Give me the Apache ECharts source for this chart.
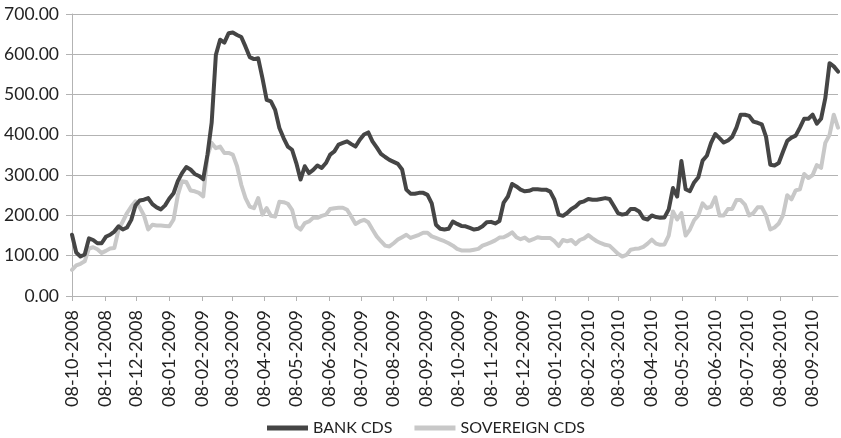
<!DOCTYPE html>
<html>
<head>
<meta charset="utf-8">
<title>Bank CDS vs Sovereign CDS</title>
<script src="https://cdn.jsdelivr.net/npm/echarts@6/dist/echarts.min.js"></script>
<style>
  html, body { margin: 0; padding: 0; background: #ffffff; }
  #chart { width: 841px; height: 438px; }
</style>
</head>
<body>
<div id="chart"></div>
<script>
// Date range of the axis (one category per calendar day)
const FIRST_DAY = '08-10-2008';
const LAST_DAY = '02-10-2010';
// Observations are taken every 4 calendar days starting at FIRST_DAY
const SAMPLE_STEP_DAYS = 4;

// Monthly tick labels on the date axis
const tickLabels = [
  '08-10-2008', '08-11-2008', '08-12-2008', '08-01-2009', '08-02-2009', '08-03-2009',
  '08-04-2009', '08-05-2009', '08-06-2009', '08-07-2009', '08-08-2009', '08-09-2009',
  '08-10-2009', '08-11-2009', '08-12-2009', '08-01-2010', '08-02-2010', '08-03-2010',
  '08-04-2010', '08-05-2010', '08-06-2010', '08-07-2010', '08-08-2010', '08-09-2010'
];

// Bank CDS spreads (bp)
const bankCds = [
  152, 108, 98, 103, 143, 139, 131, 131, 147, 152,
  160, 173, 165, 170, 189, 225, 237, 239, 243, 228,
  220, 215, 225, 242, 255, 285, 305, 320, 314, 303,
  298, 290, 350, 430, 599, 636, 629, 652, 654, 648,
  643, 619, 593, 588, 590, 541, 487, 483, 462, 417,
  392, 371, 363, 330, 289, 322, 305, 313, 324, 318,
  330, 351, 359, 376, 380, 384, 377, 371, 388, 401,
  406, 384, 369, 353, 345, 338, 333, 328, 314, 264,
  254, 254, 256, 256, 251, 230, 177, 167, 165, 167,
  185, 179, 174, 173, 169, 165, 167, 173, 183, 184,
  180, 186, 232, 247, 278, 272, 264, 260, 261, 265,
  265, 264, 264, 259, 239, 202, 199, 206, 216, 222,
  232, 235, 241, 239, 239, 241, 243, 241, 224, 206,
  202, 204, 216, 216, 210, 193, 190, 200, 196, 194,
  195, 215, 268, 247, 335, 265, 260, 282, 295, 336,
  348, 380, 402, 392, 381, 386, 395, 418, 450, 450,
  447, 433, 430, 426, 395, 326, 324, 330, 358, 385,
  393, 398, 418, 440, 440, 450, 428, 440, 491, 578,
  570, 557
];

// Sovereign CDS spreads (bp)
const sovereignCds = [
  65, 76, 80, 86, 118, 121, 116, 107, 112, 118,
  119, 165, 185, 206, 222, 235, 220, 200, 165, 177,
  175, 175, 174, 173, 190, 250, 285, 283, 262, 260,
  256, 247, 347, 380, 367, 371, 355, 355, 351, 322,
  276, 243, 222, 218, 243, 202, 218, 199, 197, 234,
  233, 229, 214, 173, 165, 181, 185, 194, 194, 199,
  202, 216, 218, 219, 219, 214, 197, 179, 185, 189,
  183, 165, 148, 136, 125, 123, 131, 140, 146, 152,
  144, 148, 152, 157, 157, 148, 144, 140, 136, 131,
  125, 117, 113, 113, 113, 115, 117, 125, 129, 133,
  138, 145, 146, 151, 158, 146, 141, 145, 137, 141,
  146, 144, 144, 144, 136, 124, 139, 136, 139, 129,
  139, 143, 151, 143, 136, 131, 127, 125, 115, 105,
  98, 102, 115, 117, 118, 122, 130, 140, 130, 127,
  128, 150, 210, 190, 206, 150, 165, 188, 200, 230,
  218, 222, 245, 200, 200, 216, 216, 238, 238, 227,
  200, 206, 220, 220, 200, 165, 170, 180, 200, 250,
  240, 262, 265, 303, 293, 300, 325, 318, 380, 400,
  450, 418
];

const DAY_MS = 86400000;

function parseDay(s) {
  const [d, m, y] = s.split('-').map(Number);
  return Date.UTC(y, m - 1, d);
}
function formatDay(t) {
  const dt = new Date(t);
  const dd = String(dt.getUTCDate()).padStart(2, '0');
  const mm = String(dt.getUTCMonth() + 1).padStart(2, '0');
  return dd + '-' + mm + '-' + dt.getUTCFullYear();
}

// Every calendar day between the first and last date
const startMs = parseDay(FIRST_DAY);
const endMs = parseDay(LAST_DAY);
const categories = [];
for (let t = startMs; t <= endMs; t += DAY_MS) categories.push(formatDay(t));

function toSeries(values) {
  return values.map((v, i) => [formatDay(startMs + i * SAMPLE_STEP_DAYS * DAY_MS), v]);
}

const tickSet = new Set(tickLabels);
const showMonthly = (idx, value) => tickSet.has(value);

const FONT = 'Lato, "Open Sans", sans-serif';
const GRID_GRAY = '#b3b3b3';

const chart = echarts.init(document.getElementById('chart'), null, { renderer: 'canvas' });
chart.setOption({
  animation: false,
  backgroundColor: '#ffffff',
  grid: { left: 72, right: 3, top: 14, bottom: 142, containLabel: false },
  legend: {
    top: 415,
    left: 262,
    itemWidth: 41,
    itemHeight: 5,
    itemGap: 22,
    icon: 'rect',
    textStyle: { fontFamily: FONT, fontSize: 16, color: '#222222' },
    data: ['BANK CDS', 'SOVEREIGN CDS']
  },
  xAxis: {
    type: 'category',
    data: categories,
    boundaryGap: false,
    axisLine: { lineStyle: { color: GRID_GRAY, width: 1 } },
    axisTick: { show: true, interval: showMonthly, length: 5, lineStyle: { color: GRID_GRAY } },
    axisLabel: {
      interval: showMonthly,
      rotate: 90,
      margin: 14,
      fontFamily: FONT,
      fontSize: 18,
      color: '#222222'
    },
    splitLine: { show: false }
  },
  yAxis: {
    type: 'value',
    min: 0,
    max: 700,
    interval: 100,
    axisLine: { show: true, lineStyle: { color: GRID_GRAY, width: 1 } },
    axisTick: { show: true, length: 6, lineStyle: { color: GRID_GRAY } },
    axisLabel: {
      margin: 13,
      fontFamily: FONT,
      fontSize: 17.5,
      color: '#222222',
      formatter: v => v.toFixed(2)
    },
    splitLine: { lineStyle: { color: GRID_GRAY, width: 1 } }
  },
  series: [
    {
      name: 'BANK CDS',
      type: 'line',
      data: toSeries(bankCds),
      showSymbol: false,
      symbol: 'none',
      sampling: 'none',
      color: '#454545',
      lineStyle: { width: 4, color: '#454545', join: 'round', cap: 'round' },
      z: 3
    },
    {
      name: 'SOVEREIGN CDS',
      type: 'line',
      data: toSeries(sovereignCds),
      showSymbol: false,
      symbol: 'none',
      sampling: 'none',
      color: '#c8c8c8',
      lineStyle: { width: 4, color: '#c8c8c8', join: 'round', cap: 'round' },
      z: 2
    }
  ]
});
</script>
</body>
</html>
